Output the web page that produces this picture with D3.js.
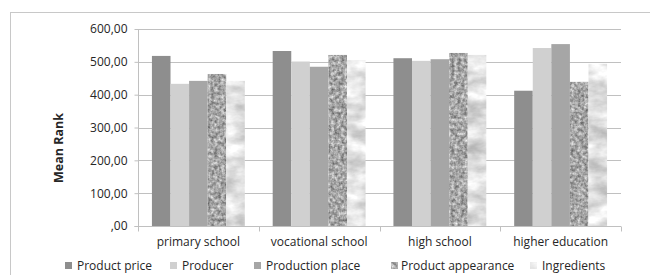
<!DOCTYPE html>
<head>
<meta charset="utf-8">
<style>
  body { margin: 0; background: #fff; }
  text { font-family: "Open Sans", sans-serif; fill: #262626; }
</style>
</head>
<body>
<div id="chart"></div>
<script src="https://d3js.org/d3.v7.min.js"></script>
<script>
// data
var categories = ["primary school", "vocational school", "high school", "higher education"];
var series = ["Product price", "Producer", "Production place", "Product appearance", "Ingredients"];
var productPrice      = [518, 533, 511, 412];
var producer          = [433, 501, 503, 542];
var productionPlace   = [442, 485, 508, 554];
var productAppearance = [463, 521, 527, 439];
var ingredients       = [442, 505, 521, 494];
var yTicks = [0, 100, 200, 300, 400, 500, 600];

var values = [productPrice, producer, productionPlace, productAppearance, ingredients];
var fills = ["#8e8e8e", "#d0d0d0", "#a6a6a6"];

var W = 650, H = 275;
var margin = {top: 29, right: 29, bottom: 49, left: 138};
var width = W - margin.left - margin.right,
    height = H - margin.top - margin.bottom;

var svg = d3.select("#chart").append("svg")
    .attr("width", W).attr("height", H);

var defs = svg.append("defs");

// granite texture
var fg = defs.append("filter").attr("id", "graniteF")
    .attr("color-interpolation-filters", "sRGB")
    .attr("x", 0).attr("y", 0).attr("width", 1).attr("height", 1);
fg.append("feTurbulence").attr("type", "fractalNoise")
    .attr("baseFrequency", 0.3).attr("numOctaves", 3).attr("seed", 3).attr("result", "n");
fg.append("feColorMatrix").attr("type", "matrix").attr("in", "n")
    .attr("values", "0.7 0 0 0 0.3  0.7 0 0 0 0.3  0.7 0 0 0 0.3  0 0 0 0 1").attr("result", "g");
fg.append("feComposite").attr("in", "g").attr("in2", "SourceGraphic").attr("operator", "in");

// marble texture
var fm = defs.append("filter").attr("id", "marbleF")
    .attr("color-interpolation-filters", "sRGB")
    .attr("x", 0).attr("y", 0).attr("width", 1).attr("height", 1);
fm.append("feTurbulence").attr("type", "fractalNoise")
    .attr("baseFrequency", "0.04 0.07").attr("numOctaves", 4).attr("seed", 8).attr("result", "n");
fm.append("feColorMatrix").attr("type", "matrix").attr("in", "n")
    .attr("values", "0.45 0 0 0 0.66  0.45 0 0 0 0.66  0.45 0 0 0 0.66  0 0 0 0 1").attr("result", "g");
fm.append("feComposite").attr("in", "g").attr("in2", "SourceGraphic").attr("operator", "in");

function barFilter(i) {
    return i == 3 ? "url(#graniteF)" : (i == 4 ? "url(#marbleF)" : null);
}

// outer frame
svg.append("rect")
    .attr("x", 10.5).attr("y", 12.5)
    .attr("width", 700).attr("height", 300)
    .attr("fill", "none").attr("stroke", "#c8c8c8");

var g = svg.append("g").attr("transform", "translate(" + margin.left + "," + margin.top + ")");

var x0 = d3.scaleBand().domain(categories).range([0, width]);
var barW = x0.bandwidth() / 6.5;
var x1 = d3.scaleBand().domain(series)
    .range([barW * 0.75, barW * 5.75]);

var y = d3.scaleLinear().domain([0, 600]).range([height, 0]);

// gridlines
g.append("g").selectAll("line")
    .data(yTicks.slice(1))
    .enter().append("line")
    .attr("x1", 0).attr("x2", width)
    .attr("y1", function(d) { return Math.round(y(d)) + 0.5; })
    .attr("y2", function(d) { return Math.round(y(d)) + 0.5; })
    .attr("stroke", "#c0c0c0");

// bars
series.forEach(function(s, i) {
    g.append("g").selectAll("rect")
        .data(values[i])
        .enter().append("rect")
        .attr("x", function(d, j) { return x0(categories[j]) + x1(s); })
        .attr("y", function(d) { return y(d); })
        .attr("width", x1.bandwidth())
        .attr("height", function(d) { return height - y(d); })
        .attr("fill", i < 3 ? fills[i] : "#999")
        .attr("filter", barFilter(i));
});

// y axis
var yAxis = g.append("g")
    .attr("transform", "translate(0.5,0)")
    .call(d3.axisLeft(y).tickValues(yTicks).tickSize(4).tickPadding(7)
        .tickFormat(function(d) { return d == 0 ? ",00" : d + ",00"; }));
yAxis.select(".domain").attr("stroke", "#c0c0c0").attr("d", "M-4," + (height + 0.5) + "H0V0");
yAxis.selectAll(".tick line").attr("stroke", "#c0c0c0");
yAxis.selectAll("text").style("font-size", "12px").attr("fill", "#262626");

// x axis
var xAxis = g.append("g")
    .attr("transform", "translate(0," + (Math.round(height) + 0.5) + ")");
xAxis.append("line").attr("x1", 0).attr("x2", width).attr("stroke", "#c0c0c0");
xAxis.selectAll(".sep")
    .data(categories.concat(["end"]))
    .enter().append("line")
    .attr("x1", function(d, i) { return Math.round(i < 4 ? x0(d) : width) + 0.5; })
    .attr("x2", function(d, i) { return Math.round(i < 4 ? x0(d) : width) + 0.5; })
    .attr("y1", 0).attr("y2", 5)
    .attr("stroke", "#c0c0c0");
xAxis.selectAll(".lab")
    .data(categories)
    .enter().append("text")
    .attr("x", function(d) { return x0(d) + x0.bandwidth() / 2; })
    .attr("y", 19)
    .attr("text-anchor", "middle")
    .style("font-size", "12px")
    .text(function(d) { return d; });

// y axis title
svg.append("text")
    .attr("transform", "translate(63,148) rotate(-90)")
    .attr("text-anchor", "middle")
    .style("font-size", "12.5px")
    .style("font-weight", "bold")
    .attr("fill", "#000")
    .text("Mean Rank");

// legend
var legendX = [65, 170, 254, 391, 530];
var legend = svg.append("g").selectAll("g")
    .data(series)
    .enter().append("g")
    .attr("transform", function(d, i) { return "translate(" + legendX[i] + ",262)"; });
legend.append("rect")
    .attr("width", 7).attr("height", 7)
    .attr("fill", function(d, i) { return i < 3 ? fills[i] : "#999"; })
    .attr("filter", function(d, i) { return barFilter(i); });
legend.append("text")
    .attr("x", function(d, i) { return i == 3 ? 10 : 12; })
    .attr("y", 8)
    .style("font-size", "12px")
    .text(function(d) { return d; });
</script>
</body>
